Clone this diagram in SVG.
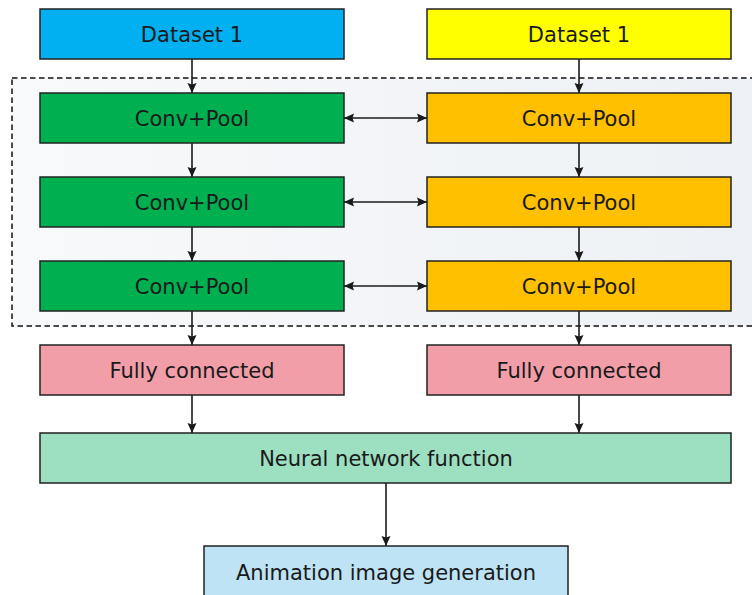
<svg xmlns="http://www.w3.org/2000/svg" width="752" height="595" viewBox="0 0 752 595">
<defs>
<linearGradient id="bg" x1="0" y1="0" x2="1" y2="0">
<stop offset="0" stop-color="#f8f9fb"/>
<stop offset="1" stop-color="#edf1f5"/>
</linearGradient>
<marker id="ah" viewBox="0 0 10 10" refX="10" refY="5" markerWidth="10" markerHeight="10" markerUnits="userSpaceOnUse" orient="auto-start-reverse">
<path d="M0,0.5 L10,5 L0,9.5 L1.5,5 z" fill="#1a1a1a"/>
</marker>
<style>
.box{stroke:#222;stroke-width:1.5}
.t{font-family:"DejaVu Sans",Verdana,sans-serif;font-size:21px;fill:#1a1a1a;text-anchor:middle}
.c{stroke:#1a1a1a;stroke-width:1.6;fill:none;marker-end:url(#ah)}
.d{marker-start:url(#ah)}
</style>
</defs>
<rect width="752" height="595" fill="#fff"/>
<rect id="region" x="12" y="78" width="750" height="248" fill="url(#bg)" stroke="#111" stroke-width="1.5" stroke-dasharray="5.5,3.5"/>
<g id="connectors">
<line class="c" x1="192" y1="59" x2="192" y2="93"/>
<line class="c" x1="579" y1="59" x2="579" y2="93"/>
<line class="c" x1="192" y1="143" x2="192" y2="177"/>
<line class="c" x1="579" y1="143" x2="579" y2="177"/>
<line class="c" x1="192" y1="227" x2="192" y2="261"/>
<line class="c" x1="579" y1="227" x2="579" y2="261"/>
<line class="c" x1="192" y1="311" x2="192" y2="345"/>
<line class="c" x1="579" y1="311" x2="579" y2="345"/>
<line class="c" x1="192" y1="395" x2="192" y2="433"/>
<line class="c" x1="579" y1="395" x2="579" y2="433"/>
<line class="c" x1="386" y1="483" x2="386" y2="546"/>
<line class="c d" x1="344" y1="118" x2="427" y2="118"/>
<line class="c d" x1="344" y1="202" x2="427" y2="202"/>
<line class="c d" x1="344" y1="286" x2="427" y2="286"/>
</g>
<g id="ds1"><rect class="box" x="40" y="9" width="304" height="50" fill="#00b0f0"/><text class="t" x="192" y="42">Dataset 1</text></g>
<g id="ds2"><rect class="box" x="427" y="9" width="304" height="50" fill="#ffff00"/><text class="t" x="579" y="42">Dataset 1</text></g>
<g id="cl1"><rect class="box" x="40" y="93" width="304" height="50" fill="#00b050"/><text class="t" x="192" y="126">Conv+Pool</text></g>
<g id="cr1"><rect class="box" x="427" y="93" width="304" height="50" fill="#ffc000"/><text class="t" x="579" y="126">Conv+Pool</text></g>
<g id="cl2"><rect class="box" x="40" y="177" width="304" height="50" fill="#00b050"/><text class="t" x="192" y="210">Conv+Pool</text></g>
<g id="cr2"><rect class="box" x="427" y="177" width="304" height="50" fill="#ffc000"/><text class="t" x="579" y="210">Conv+Pool</text></g>
<g id="cl3"><rect class="box" x="40" y="261" width="304" height="50" fill="#00b050"/><text class="t" x="192" y="294">Conv+Pool</text></g>
<g id="cr3"><rect class="box" x="427" y="261" width="304" height="50" fill="#ffc000"/><text class="t" x="579" y="294">Conv+Pool</text></g>
<g id="fcl"><rect class="box" x="40" y="345" width="304" height="50" fill="#f29ea9"/><text class="t" x="192" y="378">Fully connected</text></g>
<g id="fcr"><rect class="box" x="427" y="345" width="304" height="50" fill="#f29ea9"/><text class="t" x="579" y="378">Fully connected</text></g>
<g id="nn"><rect class="box" x="40" y="433" width="691" height="50" fill="#9ddfc1"/><text class="t" x="386" y="466">Neural network function</text></g>
<g id="anim"><rect class="box" x="204" y="546" width="364" height="60" fill="#bde3f4"/><text class="t" x="386" y="580">Animation image generation</text></g>
</svg>
